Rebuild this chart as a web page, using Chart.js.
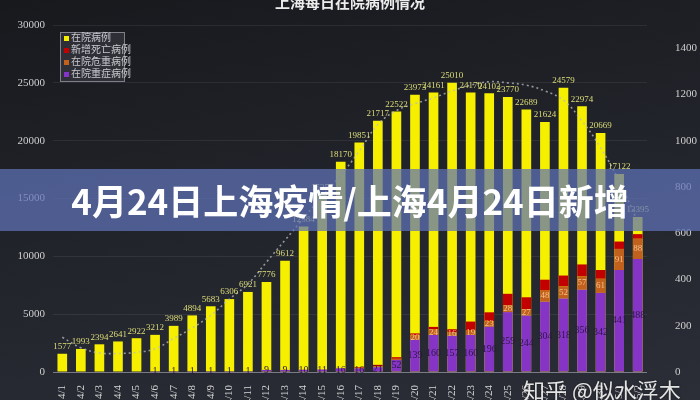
<!DOCTYPE html>
<html>
<head>
<meta charset="utf-8">
<script src="https://cdn.jsdelivr.net/npm/chart.js@4.4.1/dist/chart.umd.min.js"></script>
<style>
  html, body { margin: 0; padding: 0; }
  body {
    width: 700px; height: 400px; overflow: hidden; position: relative;
    background: linear-gradient(170deg, #18191d 0%, #21232a 45%, #2b2e37 100%);
    font-family: "Noto Sans CJK SC", sans-serif;
  }
  #wrap { position: absolute; left: 0; top: -10px; width: 700px; height: 420px; }
  #banner {
    position: absolute; left: 0; top: 169px; width: 700px; height: 62px;
    background: rgba(95, 115, 185, 0.72);
    color: #fff; font-weight: bold; font-size: 35px; line-height: 62px;
    text-align: center;
  }
  #mark {
    position: absolute; left: 523px; top: 378px; font-size: 22px; line-height: 22px;
    color: rgba(255, 255, 255, 0.88); text-shadow: 0 0 2px rgba(0,0,0,0.6);
    white-space: nowrap;
  }
</style>
</head>
<body>
<div id="wrap"><canvas id="chartZaiyuan" width="700" height="420"></canvas></div>
<div id="banner">4月24日上海疫情/上海4月24日新增</div>
<div id="mark">知乎 @似水浮木</div>
<script>
// dates 4/1 - 5/2
const labels = ['4/1','4/2','4/3','4/4','4/5','4/6','4/7','4/8','4/9','4/10','4/11','4/12','4/13','4/14','4/15','4/16',
  '4/17','4/18','4/19','4/20','4/21','4/22','4/23','4/24','4/25','4/26','4/27','4/28','4/29','4/30','5/1','5/2']

// 在院病例 (left axis)
const zaiyuan = [1577,1993,2394,2641,2922,3212,3989,4894,5683,6306,6921,7776,9612,12584,15351,18170,
  19851,21717,22522,23973,24161,25010,24170,24102,23770,22689,21624,24579,22974,20669,17122,13395]

// 在院重症病例 (right axis, stacked)
const zhongzheng = [0,0,0,0,0,1,1,1,1,1,1,9,9,10,11,16,16,21,52,139,160,157,160,196,259,244,304,318,356,342,441,488]
// 在院危重病例
const weizhong = [0,0,0,0,0,0,0,0,0,0,0,0,0,0,0,1,2,3,5,20,24,16,19,23,28,27,48,52,57,61,91,88]
// 新增死亡病例
const siwang = [0,0,0,0,0,0,0,0,0,0,0,0,0,0,0,0,3,7,7,8,11,12,39,39,51,52,47,47,52,38,32,20]

// dotted trend line
const trend = [3000,2100,1650,1600,1700,2000,2900,3800,4900,6300,7600,9500,11400,13300,15200,17000,
  19100,21400,22600,23200,23700,24300,24800,25100,25000,24800,24300,23500,21700,19400,16500,13000]

const leftTicks = [0, 5000, 10000, 15000, 20000, 25000, 30000]
const rightTicks = [0, 200, 400, 600, 800, 1000, 1200, 1400]

const serif = '"Liberation Serif", "DejaVu Serif", "Noto Sans CJK SC", serif'

// value labels on the bars
const barLabels = {
  id: 'barLabels',
  afterDatasetsDraw(chart) {
    const ctx = chart.ctx
    ctx.save()
    ctx.textAlign = 'center'
    ctx.textBaseline = 'middle'
    chart.data.datasets.forEach((ds, i) => {
      if (!ds.labelStyle) return
      const meta = chart.getDatasetMeta(i)
      meta.data.forEach((bar, j) => {
        const v = ds.data[j]
        if (!v || v < ds.labelStyle.min) return
        ctx.font = ds.labelStyle.font
        ctx.fillStyle = ds.labelStyle.color
        const y = ds.labelStyle.where === 'top' ? bar.y - 7 : (bar.y + bar.base) / 2
        ctx.fillText(String(v), bar.x, y)
      })
    })
    ctx.restore()
  }
}

// boxed legend inside the plot, top left
const boxLegend = {
  id: 'boxLegend',
  afterDraw(chart) {
    const ctx = chart.ctx
    const order = [0, 3, 2, 1]
    const x0 = 60, y0 = 42, w = 64, h = 49
    ctx.save()
    ctx.fillStyle = 'rgba(70, 72, 82, 0.45)'
    ctx.fillRect(x0, y0, w, h)
    ctx.strokeStyle = 'rgba(150, 150, 160, 0.8)'
    ctx.lineWidth = 1
    ctx.strokeRect(x0 + 0.5, y0 + 0.5, w, h)
    ctx.font = '10px ' + serif
    ctx.textBaseline = 'middle'
    order.forEach((i, k) => {
      const ds = chart.data.datasets[i]
      const y = y0 + 6.5 + k * 12
      ctx.fillStyle = ds.backgroundColor
      ctx.fillRect(x0 + 4, y - 2.5, 5, 5)
      ctx.fillStyle = '#c9c9cf'
      ctx.fillText(ds.label, x0 + 11, y)
    })
    ctx.restore()
  }
}

new Chart(document.getElementById('chartZaiyuan'), {
  data: {
    labels: labels,
    datasets: [
      {
        type: 'bar', label: '在院病例', data: zaiyuan, yAxisID: 'y',
        backgroundColor: '#f6f000', grouped: false, order: 4,
        barPercentage: 0.52, categoryPercentage: 1,
        labelStyle: { where: 'top', min: 1, font: '9px ' + serif, color: '#dcdc78' }
      },
      {
        type: 'bar', label: '在院重症病例', data: zhongzheng, yAxisID: 'y2', stack: 's',
        backgroundColor: '#8534c6', grouped: false, order: 1,
        barPercentage: 0.52, categoryPercentage: 1,
        labelStyle: { where: 'mid', min: 1, font: '10px ' + serif, color: '#2c1842' }
      },
      {
        type: 'bar', label: '在院危重病例', data: weizhong, yAxisID: 'y2', stack: 's',
        backgroundColor: '#c2601e', grouped: false, order: 2,
        barPercentage: 0.52, categoryPercentage: 1,
        labelStyle: { where: 'mid', min: 10, font: '9px ' + serif, color: '#f4c08a' }
      },
      {
        type: 'bar', label: '新增死亡病例', data: siwang, yAxisID: 'y2', stack: 's',
        backgroundColor: '#c20000', grouped: false, order: 3,
        barPercentage: 0.52, categoryPercentage: 1
      },
      {
        type: 'line', label: 'trend', data: trend, yAxisID: 'y', order: 0,
        borderColor: 'rgba(185, 190, 190, 0.75)', borderWidth: 1.6, borderDash: [2, 3],
        pointRadius: 0, tension: 0.4, fill: false
      }
    ]
  },
  options: {
    responsive: false,
    animation: false,
    maintainAspectRatio: false,
    layout: { padding: 0 },
    plugins: {
      legend: { display: false },
      tooltip: { enabled: false },
      title: {
        display: true,
        text: '上海每日在院病例情况',
        color: '#ececec',
        font: { size: 15, weight: 'bold', family: '"Noto Sans CJK SC", sans-serif' },
        padding: { top: 3, bottom: 14 }
      }
    },
    scales: {
      x: {
        afterFit: s => { s.height = 38 },
        grid: { display: false },
        border: { display: false },
        ticks: {
          color: '#d6d6d6', font: { size: 11, family: serif },
          minRotation: 90, maxRotation: 90, autoSkip: false, padding: 5
        }
      },
      y: {
        position: 'left', min: 0, max: 30000,
        afterFit: s => { s.width = 53 },
        afterBuildTicks: s => { s.ticks = leftTicks.map(v => ({ value: v })) },
        grid: {
          drawTicks: false,
          color: c => c.tick.value === 0 ? 'rgba(190, 190, 200, 0.55)' : 'rgba(255, 255, 255, 0.07)'
        },
        border: { display: false },
        ticks: { color: '#cfcfcf', font: { size: 11, family: serif }, padding: 8, callback: v => String(v) }
      },
      y2: {
        position: 'right', min: 0, max: 1500, stacked: true,
        afterFit: s => { s.width = 53 },
        afterBuildTicks: s => { s.ticks = rightTicks.map(v => ({ value: v })) },
        grid: { drawOnChartArea: false, drawTicks: false },
        border: { display: false },
        ticks: { color: '#cfcfcf', font: { size: 11, family: serif }, padding: 28, callback: v => String(v) }
      }
    }
  },
  plugins: [barLabels, boxLegend]
})
</script>
</body>
</html>
